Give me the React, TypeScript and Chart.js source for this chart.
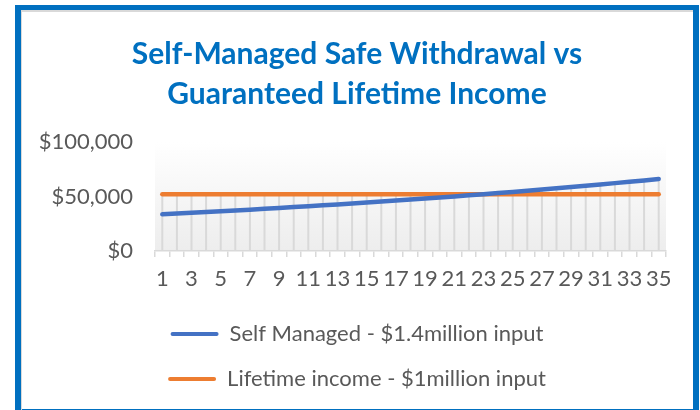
import React, { useEffect, useRef } from "react";
import { Chart, registerables } from "chart.js";

Chart.register(...registerables);

const years: string[] = [
  "1", "2", "3", "4", "5", "6", "7", "8", "9", "10",
  "11", "12", "13", "14", "15", "16", "17", "18", "19", "20",
  "21", "22", "23", "24", "25", "26", "27", "28", "29", "30",
  "31", "32", "33", "34", "35",
];

const selfManaged: number[] = [
  33700, 34370, 35060, 35760, 36480, 37210, 37950, 38710, 39490, 40280,
  41080, 41900, 42740, 43600, 44470, 45360, 46260, 47190, 48130, 49100,
  50080, 51080, 52100, 53140, 54200, 55290, 56400, 57520, 58670, 59850,
  61040, 62270, 63510, 64780, 66080,
];

const lifetimeIncome: number[] = [
  52000, 52000, 52000, 52000, 52000, 52000, 52000, 52000, 52000, 52000,
  52000, 52000, 52000, 52000, 52000, 52000, 52000, 52000, 52000, 52000,
  52000, 52000, 52000, 52000, 52000, 52000, 52000, 52000, 52000, 52000,
  52000, 52000, 52000, 52000, 52000,
];

const yTicks: number[] = [0, 50000, 100000];

const seriesLabels: string[] = [
  "Self Managed - $1.4million input",
  "Lifetime income - $1million input",
];

const titleLines: string[] = [
  "Self-Managed Safe Withdrawal vs",
  "Guaranteed Lifetime Income",
];

const TEXT = "#595959";
const GRID = "#d9d9d9";
const FONT = "Lato";

const plotBackground = {
  id: "plotBackground",
  beforeDraw(chart: any) {
    const { ctx, chartArea } = chart;
    if (!chartArea) return;
    const g = ctx.createLinearGradient(0, chartArea.top, 0, chartArea.bottom);
    g.addColorStop(0, "#ffffff");
    g.addColorStop(1, "#ededed");
    ctx.save();
    ctx.fillStyle = g;
    ctx.fillRect(chartArea.left, chartArea.top, chartArea.right - chartArea.left, chartArea.bottom - chartArea.top);
    ctx.restore();
  },
};

const dropLines = {
  id: "dropLines",
  beforeDatasetsDraw(chart: any) {
    const { ctx, scales } = chart;
    const x = scales.x;
    const y = scales.y;
    const sets = chart.data.datasets;
    ctx.save();
    ctx.strokeStyle = GRID;
    ctx.lineWidth = 2;
    for (let i = 0; i < chart.data.labels.length; i++) {
      let maxV = -Infinity;
      sets.forEach((ds: any) => {
        if (ds.data[i] > maxV) maxV = ds.data[i];
      });
      const px = x.getPixelForValue(i);
      ctx.beginPath();
      ctx.moveTo(px, y.getPixelForValue(maxV));
      ctx.lineTo(px, y.getPixelForValue(0));
      ctx.stroke();
    }
    ctx.restore();
  },
};

export default function App() {
  const ref = useRef<HTMLCanvasElement | null>(null);

  useEffect(() => {
    if (!ref.current) return;
    const chart = new Chart(ref.current, {
      type: "line",
      data: {
        labels: years,
        datasets: [
          {
            label: seriesLabels[0],
            data: selfManaged,
            borderColor: "#4472C4",
            backgroundColor: "#4472C4",
            borderWidth: 4.5,
            borderCapStyle: "round",
            pointRadius: 0,
            tension: 0,
            yAxisID: "y",
          },
          {
            label: seriesLabels[1],
            data: lifetimeIncome,
            borderColor: "#ED7D31",
            backgroundColor: "#ED7D31",
            borderWidth: 4.5,
            borderCapStyle: "round",
            pointRadius: 0,
            tension: 0,
            yAxisID: "y",
          },
        ],
      },
      options: {
        animation: false,
        responsive: false,
        maintainAspectRatio: false,
        layout: { padding: { left: 0, right: 0, top: 0, bottom: 9 } },
        plugins: {
          tooltip: { enabled: false },
          title: {
            display: true,
            text: titleLines,
            color: "#0070C0",
            font: { family: FONT, size: 30, weight: "bold", lineHeight: 40 / 30 },
            padding: { top: 24, bottom: 28 },
          },
          legend: {
            display: true,
            position: "bottom",
            align: "center",
            labels: {
              color: TEXT,
              font: { family: FONT, size: 22 },
              boxWidth: 48,
              boxHeight: 4,
              padding: 23,
              useBorderRadius: true,
              borderRadius: 2,
              generateLabels: (c: any) =>
                c.data.datasets.map((ds: any, i: number) => ({
                  text: ds.label,
                  fillStyle: ds.borderColor,
                  strokeStyle: ds.borderColor,
                  lineWidth: 0,
                  hidden: false,
                  datasetIndex: i,
                  borderRadius: 2,
                  fontColor: TEXT,
                })),
            },
          },
        },
        scales: {
          x: {
            type: "category",
            offset: true,
            grid: {
              display: true,
              offset: true,
              drawOnChartArea: false,
              drawTicks: true,
              tickLength: 6,
              color: GRID,
              lineWidth: 1.5,
            },
            border: { display: true, color: GRID, width: 1.5 },
            ticks: {
              autoSkip: false,
              maxRotation: 0,
              minRotation: 0,
              padding: 9,
              color: TEXT,
              font: { family: FONT, size: 22 },
              callback: (_v: any, i: number) => (i % 2 === 0 ? years[i] : ""),
            },
            afterFit: (s: any) => {
              s.height = 49;
            },
          },
          y: {
            position: "left",
            min: 0,
            max: 100000,
            grid: { display: false, drawTicks: false },
            border: { display: false },
            afterBuildTicks: (s: any) => {
              s.ticks = yTicks.map((v) => ({ value: v }));
            },
            ticks: {
              padding: 22,
              color: TEXT,
              font: { family: FONT, size: 22 },
              callback: (v: any) => "$" + Number(v).toLocaleString("en-US"),
            },
            afterFit: (s: any) => {
              s.width = 134;
            },
          },
          yRight: {
            position: "right",
            display: true,
            grid: { display: false, drawTicks: false },
            border: { display: false },
            ticks: { display: false },
            afterFit: (s: any) => {
              s.width = 27;
            },
          },
        },
      },
      plugins: [plotBackground, dropLines],
    });
    return () => chart.destroy();
  }, []);

  return (
    <div style={{ position: "absolute", left: 0, top: 0, width: 700, height: 410, background: "#ffffff", overflow: "hidden" }}>
      <div
        style={{
          position: "absolute",
          left: 15,
          top: 5,
          width: 672,
          height: 399,
          borderLeft: "6px solid #0070C0",
          borderTop: "5px solid #0070C0",
          borderRight: "6px solid #0070C0",
          borderBottom: "2px solid #0070C0",
        }}
      />
      <div
        style={{
          position: "absolute",
          left: 21,
          top: 10,
          width: 671,
          height: 398,
          borderLeft: "1px solid #d9d9d9",
          borderTop: "2px solid #d9d9d9",
        }}
      />
      <canvas
        ref={ref}
        width={672}
        height={399}
        style={{ position: "absolute", left: 21, top: 10, width: 672, height: 399 }}
      />
    </div>
  );
}
